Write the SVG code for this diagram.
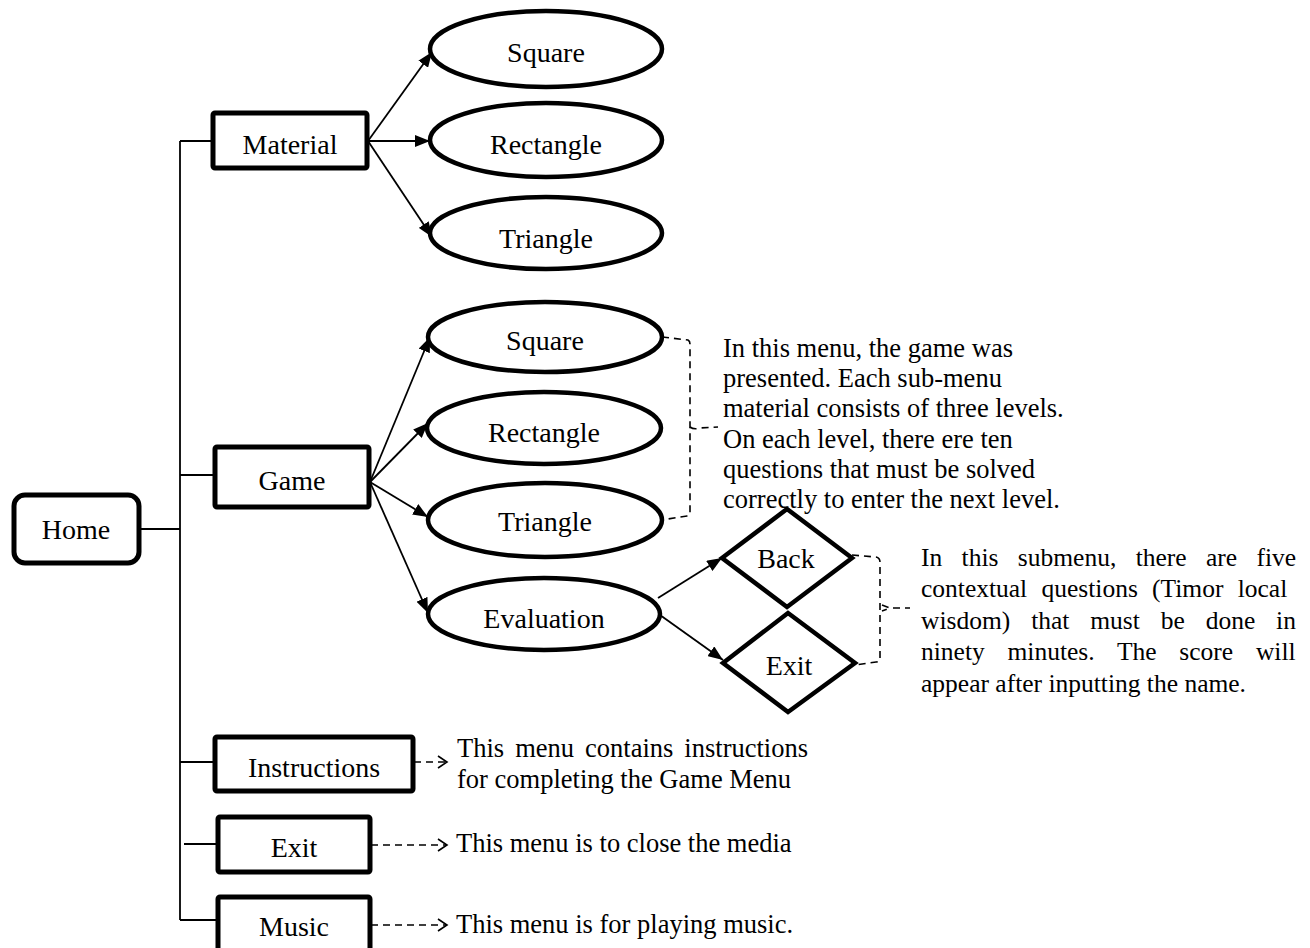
<svg xmlns="http://www.w3.org/2000/svg" width="1310" height="948" viewBox="0 0 1310 948">
<defs>
<marker id="fa" markerUnits="userSpaceOnUse" markerWidth="15" markerHeight="12" refX="15" refY="6" orient="auto"><path d="M0,0 L15,6 L0,12 z" fill="#000"/></marker>
<marker id="oa" markerUnits="userSpaceOnUse" markerWidth="12" markerHeight="14" refX="10" refY="7" orient="auto"><path d="M1,1 L10,7 L1,13" fill="none" stroke="#000" stroke-width="1.6"/></marker>
</defs>
<style>
.box{fill:#fff;stroke:#000;stroke-width:5}
.ell{fill:#fff;stroke:#000;stroke-width:4.5}
.dia{fill:#fff;stroke:#000;stroke-width:4.5}
.lbl{font-family:"Liberation Serif","Times New Roman",serif;font-size:28px;fill:#000;text-anchor:middle}
.note{font-family:"Liberation Serif","Times New Roman",serif;font-size:26.5px;fill:#000}
.ln{fill:none;stroke:#000;stroke-width:1.8}
.ar{fill:none;stroke:#000;stroke-width:1.8;marker-end:url(#fa)}
.dash{fill:none;stroke:#000;stroke-width:1.6;stroke-dasharray:7,5}
.darr{fill:none;stroke:#000;stroke-width:1.6;stroke-dasharray:7,5;marker-end:url(#oa)}
</style>
<rect width="1310" height="948" fill="#fff"/>
<g id="connectors">
<path class="ln" d="M180,141 V920"/>
<path class="ln" d="M139,529 H180"/>
<path class="ln" d="M180,141 H213"/>
<path class="ln" d="M180,475 H215"/>
<path class="ln" d="M180,762 H215"/>
<path class="ln" d="M184,844 H218"/>
<path class="ln" d="M180,920 H218"/>
<path class="ar" d="M368,141 L432,52"/>
<path class="ar" d="M368,141 L430,141"/>
<path class="ar" d="M368,141 L432,237"/>
<path class="ar" d="M370,482 L430,337"/>
<path class="ar" d="M370,482 L428,423"/>
<path class="ar" d="M370,482 L428,517"/>
<path class="ar" d="M370,482 L428,613"/>
<path class="ar" d="M658,598 L722,558"/>
<path class="ar" d="M660,615 L723,660"/>
<path class="dash" d="M662,337 L688,340 Q690,341 690,344 V513 Q690,516 687,516 L668,519"/>
<path class="dash" d="M690,427 Q694,430 700,428 L718,427"/>
<path class="dash" d="M852,555 L876,557 Q880,558 880,562 V659 Q880,662 876,662 L855,665"/>
<path class="dash" d="M882,605 L890,608 L882,611 M893,608 L910,608" stroke-dasharray="none"/>
<path class="darr" d="M414,762 H447"/>
<path class="darr" d="M371,845 H447"/>
<path class="darr" d="M371,925 H447"/>
</g>
<g id="home"><rect class="box" x="14" y="495" width="125" height="68" rx="11"/><text class="lbl" x="76" y="539">Home</text></g>
<g id="material"><rect class="box" x="213" y="113" width="154" height="55" rx="2"/><text class="lbl" x="290" y="154">Material</text></g>
<g id="m-square"><ellipse class="ell" cx="546" cy="49" rx="116" ry="38"/><text class="lbl" x="546" y="62">Square</text></g>
<g id="m-rectangle"><ellipse class="ell" cx="546" cy="140" rx="116" ry="37"/><text class="lbl" x="546" y="154">Rectangle</text></g>
<g id="m-triangle"><ellipse class="ell" cx="546" cy="233" rx="116" ry="36"/><text class="lbl" x="546" y="248">Triangle</text></g>
<g id="game"><rect class="box" x="215" y="447" width="154" height="60" rx="2"/><text class="lbl" x="292" y="490">Game</text></g>
<g id="g-square"><ellipse class="ell" cx="545" cy="337" rx="117" ry="35"/><text class="lbl" x="545" y="350">Square</text></g>
<g id="g-rectangle"><ellipse class="ell" cx="544" cy="428" rx="117" ry="36"/><text class="lbl" x="544" y="442">Rectangle</text></g>
<g id="g-triangle"><ellipse class="ell" cx="545" cy="520" rx="117" ry="37"/><text class="lbl" x="545" y="531">Triangle</text></g>
<g id="evaluation"><ellipse class="ell" cx="544" cy="614" rx="116" ry="36"/><text class="lbl" x="544" y="628">Evaluation</text></g>
<g id="back"><polygon class="dia" points="722,558 787,509 852,558 787,607"/><text class="lbl" x="786" y="568">Back</text></g>
<g id="exit-eval"><polygon class="dia" points="723,663 788,613 855,663 788,712"/><text class="lbl" x="789" y="675">Exit</text></g>
<g id="instructions"><rect class="box" x="215" y="737" width="198" height="54" rx="2"/><text class="lbl" x="314" y="777">Instructions</text></g>
<g id="exit"><rect class="box" x="218" y="817" width="152" height="55" rx="2"/><text class="lbl" x="294" y="857">Exit</text></g>
<g id="music"><rect class="box" x="218" y="897" width="152" height="60" rx="2"/><text class="lbl" x="294" y="936">Music</text></g>
<g id="note-game">
<text class="note" x="723" y="357">In this menu, the game was</text>
<text class="note" x="723" y="387">presented. Each sub-menu</text>
<text class="note" x="723" y="417">material consists of three levels.</text>
<text class="note" x="723" y="448">On each level, there ere ten</text>
<text class="note" x="723" y="478">questions that must be solved</text>
<text class="note" x="723" y="508">correctly to enter the next level.</text>
</g>
<g id="note-eval" style="font-size:25.5px">
<text class="note" x="921" y="566" style="font-size:25.5px" word-spacing="13">In this submenu, there are five</text>
<text class="note" x="921" y="597" style="font-size:25.5px" word-spacing="7.9">contextual questions (Timor local</text>
<text class="note" x="921" y="629" style="font-size:25.5px" word-spacing="14.5">wisdom) that must be done in</text>
<text class="note" x="921" y="660" style="font-size:25.5px" word-spacing="16.4">ninety minutes. The score will</text>
<text class="note" x="921" y="692" style="font-size:25.5px">appear after inputting the name.</text>
</g>
<g id="note-instructions">
<text class="note" x="457" y="757" word-spacing="4.4">This menu contains instructions</text>
<text class="note" x="457" y="788">for completing the Game Menu</text>
</g>
<g id="note-exit"><text class="note" x="456" y="852">This menu is to close the media</text></g>
<g id="note-music"><text class="note" x="456" y="933">This menu is for playing music.</text></g>
</svg>
